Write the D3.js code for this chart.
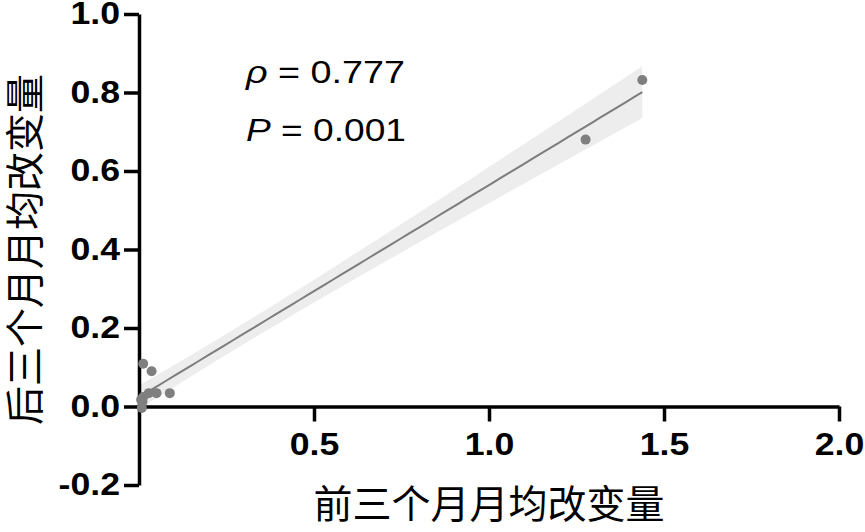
<!DOCTYPE html>
<html>
<head>
<meta charset="utf-8">
<script src="https://cdn.jsdelivr.net/npm/d3@7"></script>
<style>
  body { margin: 0; background: #fff; }
  .tick text { font-family: "Liberation Sans", Arial, sans-serif; font-weight: bold; }
</style>
</head>
<body>
<div id="chart"></div>
<script>
// values
var xValues = [1.438, 1.276, 0.012, 0.036, 0.028, 0.050, 0.088, 0.012, 0.010, 0.008, 0.006];
var yValues = [0.832, 0.680, 0.109, 0.090, 0.034, 0.034, 0.034, 0.024, 0.012, -0.004, 0.017];
var xTicks = [0.5, 1.0, 1.5, 2.0];
var yTicks = [-0.2, 0, 0.2, 0.4, 0.6, 0.8, 1.0];
var xTitle = "前三个月月均改变量";
var yTitle = "后三个月月均改变量";
var rhoText = "0.777";
var pText = "0.001";
var tCrit = 2.262; // t(0.975, df = n - 2 = 9)

var width = 865, height = 532;

var svg = d3.select("#chart")
  .append("svg")
    .attr("width", width)
    .attr("height", height);

var x = d3.scaleLinear().domain([0, 2]).range([139, 839]);
var y = d3.scaleLinear().domain([-0.2, 1.0]).range([485, 14]);

// linear fit + 95% confidence band
var n = xValues.length;
var mx = d3.mean(xValues), my = d3.mean(yValues);
var sxx = 0, sxy = 0;
for (var i = 0; i < n; i++) {
  sxx += (xValues[i] - mx) * (xValues[i] - mx);
  sxy += (xValues[i] - mx) * (yValues[i] - my);
}
var slope = sxy / sxx, intercept = my - slope * mx;
var sse = 0;
for (var i = 0; i < n; i++) {
  var r = yValues[i] - (intercept + slope * xValues[i]);
  sse += r * r;
}
var s = Math.sqrt(sse / (n - 2));
var xMin = d3.min(xValues), xMax = d3.max(xValues);
var grid = d3.range(0, 61).map(function(k) { return xMin + (xMax - xMin) * k / 60; });
var band = grid.map(function(v) {
  var fit = intercept + slope * v;
  var half = tCrit * s * Math.sqrt(1 / n + (v - mx) * (v - mx) / sxx);
  return {x: v, lo: fit - half, hi: fit + half, fit: fit};
});

svg.append("path")
  .datum(band)
  .attr("fill", "#ededed")
  .attr("d", d3.area()
    .x(function(d) { return x(d.x); })
    .y0(function(d) { return y(d.lo); })
    .y1(function(d) { return y(d.hi); }));

svg.append("path")
  .datum(band)
  .attr("fill", "none")
  .attr("stroke", "#7d7d7d")
  .attr("stroke-width", 2)
  .attr("d", d3.line()
    .x(function(d) { return x(d.x); })
    .y(function(d) { return y(d.fit); }));

// axes
var fmt = function(d) { return d3.format(".1f")(d).replace("−", "-"); };
var stretch = function(sel) {
  sel.selectAll(".tick text").each(function() {
    var len = this.getComputedTextLength();
    d3.select(this).attr("textLength", len * 1.15).attr("lengthAdjust", "spacingAndGlyphs");
  });
};

var yAxis = svg.append("g")
  .attr("transform", "translate(" + x(0) + ",0)")
  .call(d3.axisLeft(y).tickValues(yTicks).tickSize(15).tickSizeOuter(0).tickPadding(4)
    .tickFormat(fmt));

var xAxis = svg.append("g")
  .attr("transform", "translate(0," + y(0) + ")")
  .call(d3.axisBottom(x).tickValues(xTicks).tickSize(15).tickSizeOuter(0).tickPadding(11)
    .tickFormat(fmt));

svg.selectAll("g").attr("font-family", null).attr("font-size", null);
[xAxis, yAxis].forEach(function(ax) {
  ax.select(".domain").attr("stroke", "#000").attr("stroke-width", 3.5);
  ax.selectAll(".tick line").attr("stroke", "#000").attr("stroke-width", 3.5);
  ax.selectAll(".tick text").attr("fill", "#000").style("font-size", "31px");
  ax.call(stretch);
});

// points
svg.selectAll("circle.pt")
  .data(xValues.map(function(v, i) { return [v, yValues[i]]; }))
  .enter()
  .append("circle")
    .attr("class", "pt")
    .attr("cx", function(d) { return x(d[0]); })
    .attr("cy", function(d) { return y(d[1]); })
    .attr("r", 5)
    .attr("fill", "#7f7f7f");

// titles
svg.append("text")
  .attr("x", (x(0) + x(2)) / 2)
  .attr("y", 518)
  .attr("text-anchor", "middle")
  .style("font-family", "'Noto Sans CJK SC', sans-serif")
  .style("font-size", "39px")
  .attr("fill", "#000")
  .text(xTitle);

svg.append("text")
  .attr("transform", "translate(39," + (y(-0.2) + y(1.0)) / 2 + ") rotate(-90)")
  .attr("text-anchor", "middle")
  .style("font-family", "'Noto Sans CJK SC', sans-serif")
  .style("font-size", "39px")
  .attr("fill", "#000")
  .text(yTitle);

// annotation
var note = function(sym, val, ty, w) {
  var t = svg.append("text")
    .attr("x", 246)
    .attr("y", ty)
    .style("font-family", "'Liberation Sans', Arial, sans-serif")
    .style("font-size", "32px")
    .attr("fill", "#000")
    .attr("textLength", w)
    .attr("lengthAdjust", "spacingAndGlyphs");
  t.append("tspan").style("font-style", "italic").text(sym);
  t.append("tspan").text(" = " + val);
};
note("ρ", rhoText, 83, 159);
note("P", pText, 141, 160);
</script>
</body>
</html>
